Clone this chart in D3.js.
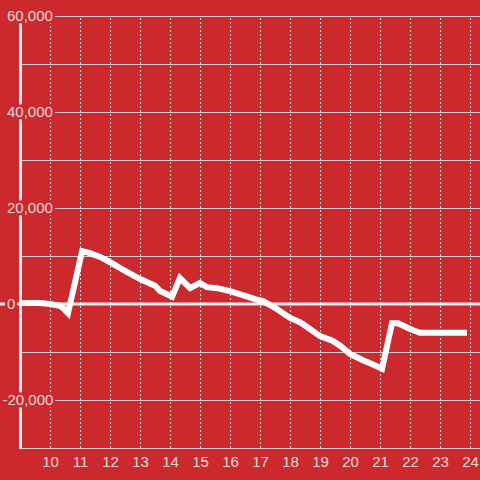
<!DOCTYPE html>
<html>
<head>
<meta charset="utf-8">
<script src="https://cdn.jsdelivr.net/npm/d3@7"></script>
<style>
  html, body { margin: 0; padding: 0; background: #cc292e; }
  svg { display: block; font-family: "Liberation Sans", Arial, sans-serif; }
</style>
</head>
<body>
<svg id="chart" width="480" height="480"></svg>
<script>
// hours of the day along x, running balance along y
const hours = [9, 9.67, 10, 10.33, 10.43, 10.6, 11.07, 11.33, 11.67, 12, 12.5, 13, 13.5, 13.67,
  14.07, 14.33, 14.67, 15, 15.23, 15.57, 16, 16.5, 16.83, 17.1, 17.5, 18, 18.33, 18.57, 19,
  19.43, 19.67, 20, 20.43, 20.73, 21.07, 21.4, 21.6, 22, 22.33, 23, 23.9];
const values = [200, 200, 0, -400, -800, -1900, 11000, 10600, 9800, 8700, 6900, 5200, 3800, 2700,
  1500, 5400, 3300, 4400, 3500, 3300, 2700, 1700, 1000, 600, -800, -2900, -3800, -4800, -6700,
  -7700, -8700, -10400, -11700, -12500, -13500, -4000, -4000, -5200, -6000, -6000, -6000];
const xTicks = [10, 11, 12, 13, 14, 15, 16, 17, 18, 19, 20, 21, 22, 23, 24];
const yGrid = [-30000, -20000, -10000, 0, 10000, 20000, 30000, 40000, 50000, 60000];
const yLabels = [-20000, 0, 20000, 40000, 60000];

const svg = d3.select("#chart");
const x = d3.scaleLinear().domain([9, 24 + 1/3]).range([20, 480]);
const y = d3.scaleLinear().domain([-30000, 60000]).range([448, 16]);
const fmt = d3.format(",");

// vertical dashed grid
svg.append("g").call(d3.axisBottom(x).tickValues(xTicks).tickSize(-(448 - 16)).tickFormat(""))
  .attr("transform", "translate(0,448)")
  .call(g => g.select(".domain").remove())
  .call(g => g.selectAll("line").attr("stroke", "#dcdcdc").attr("stroke-dasharray", "2,2"));

// horizontal grid
svg.append("g").call(d3.axisLeft(y).tickValues(yGrid).tickSize(-(480 - 20)).tickFormat(""))
  .attr("transform", "translate(20,0)")
  .call(g => g.select(".domain").remove())
  .call(g => g.selectAll("line").attr("stroke", "#cfcfcf").attr("stroke-width", 1.2));

// zero line
svg.append("line").attr("x1", 0).attr("x2", 480).attr("y1", y(0)).attr("y2", y(0))
  .attr("stroke", "#f4f0f0").attr("stroke-width", 3);

// y axis line
svg.append("line").attr("x1", 20.5).attr("x2", 20.5).attr("y1", y(60000)).attr("y2", 449)
  .attr("stroke", "#efeaea").attr("stroke-width", 3);

// y labels with background
const yl = svg.append("g").selectAll("g").data(yLabels).join("g");
yl.append("text")
  .attr("x", d => d < 0 ? 2.5 : 7)
  .attr("y", d => y(d))
  .attr("dy", "0.36em")
  .attr("font-size", 15)
  .attr("fill", "#f3d8d8")
  .text(d => fmt(d).replace("−", "-"));
yl.each(function() {
  const g = d3.select(this);
  const b = g.select("text").node().getBBox();
  g.insert("rect", "text")
    .attr("x", b.x - 2).attr("y", b.y + 1)
    .attr("width", b.width + 4).attr("height", b.height - 2)
    .attr("fill", "#cc292e");
});

// x labels
svg.append("g").attr("transform", "translate(0,448)")
  .call(d3.axisBottom(x).tickValues(xTicks).tickSize(0).tickPadding(8).tickFormat(d3.format("d")))
  .call(g => g.select(".domain").remove())
  .call(g => g.selectAll("text").attr("font-size", 15).attr("fill", "#f3d8d8")
    .attr("font-family", "Liberation Sans, Arial, sans-serif"));

// data line
const pts = hours.map((h, i) => [h, values[i]]);
svg.append("path")
  .datum(pts)
  .attr("fill", "none")
  .attr("stroke", "#ffffff")
  .attr("stroke-width", 6)
  .attr("d", d3.line().x(d => x(d[0])).y(d => y(d[1])));
</script>
</body>
</html>
